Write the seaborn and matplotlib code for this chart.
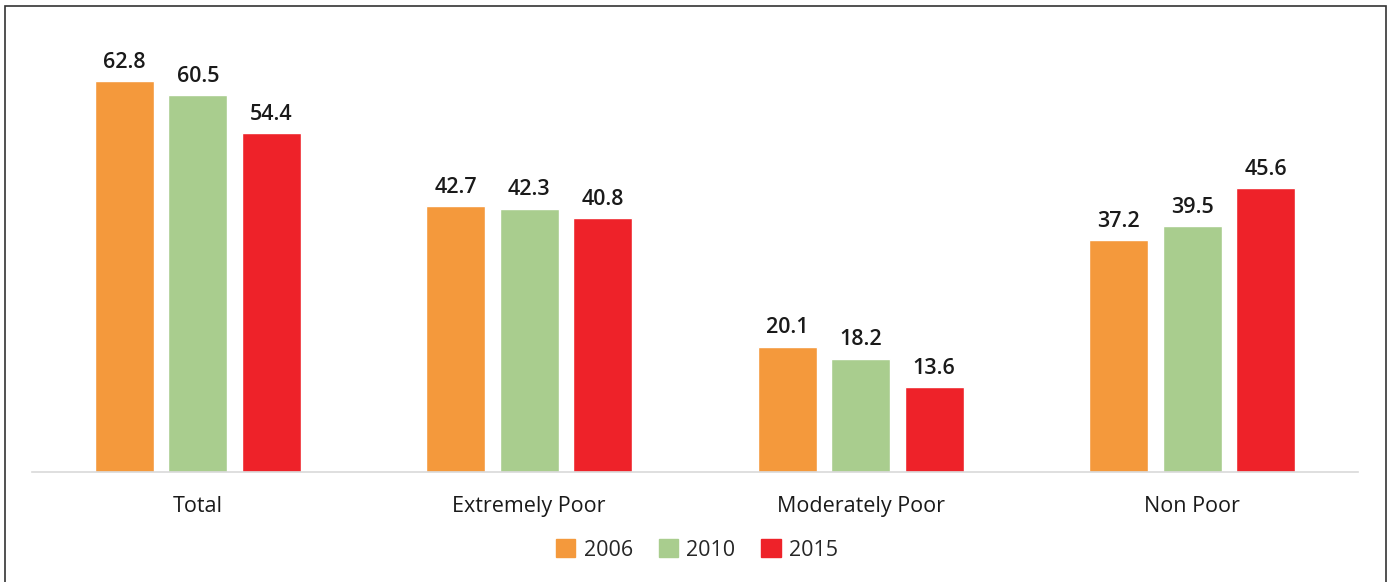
import matplotlib
matplotlib.use("Agg")
import matplotlib.pyplot as plt
from matplotlib.patches import Rectangle
import seaborn as sns
import pandas as pd

categories = ["Total", "Extremely Poor", "Moderately Poor", "Non Poor"]
years = ["2006", "2010", "2015"]
values_2006 = [62.8, 42.7, 20.1, 37.2]
values_2010 = [60.5, 42.3, 18.2, 39.5]
values_2015 = [54.4, 40.8, 13.6, 45.6]
colors = ["#F4993C", "#A9CD8E", "#EE2229"]

df = pd.DataFrame({
    "Category": categories * 3,
    "Year": [y for y in years for _ in categories],
    "Value": values_2006 + values_2010 + values_2015,
})

sns.set_style("white")
plt.rcParams["font.family"] = ["Open Sans", "DejaVu Sans"]

fig = plt.figure(figsize=(13.88, 5.82), dpi=100)
ax = fig.add_axes([32 / 1388, 1 - 472 / 582, 1326 / 1388, 436 / 582])

sns.barplot(data=df, x="Category", y="Value", hue="Year", order=categories,
            hue_order=years, palette=colors, width=0.665, gap=0.2,
            saturation=1, ax=ax, legend=False)

for cont in ax.containers:
    ax.bar_label(cont, fmt="%.1f", padding=6, fontsize=15.5, fontweight="semibold",
                 color="#1a1a1a")

ax.set_xlim(-0.5, 3.5)
ax.set_ylim(0, 70)
ax.set_xlabel("")
ax.set_ylabel("")
ax.set_yticks([])
ax.tick_params(axis="x", length=0, pad=17, labelsize=15.5, colors="#1a1a1a")
for s in ["top", "right", "left"]:
    ax.spines[s].set_visible(False)
ax.spines["bottom"].set_color("#D9D9D9")
ax.spines["bottom"].set_linewidth(1.2)

handles = [Rectangle((0, 0), 1, 1, color=c) for c in colors]
fig.legend(handles, years, loc="center", bbox_to_anchor=(697 / 1388, 1 - 550 / 582),
           ncol=3, frameon=False, fontsize=15.5, handlelength=0.9, handleheight=0.9,
           handletextpad=0.4, columnspacing=1.2)

fig.patches.append(Rectangle((5 / 1388, -0.05), 1381 / 1388, 1.05 - 6 / 582,
                             transform=fig.transFigure, fill=False,
                             edgecolor="#333333", linewidth=1.2))

fig.savefig("out.png", dpi=100)
